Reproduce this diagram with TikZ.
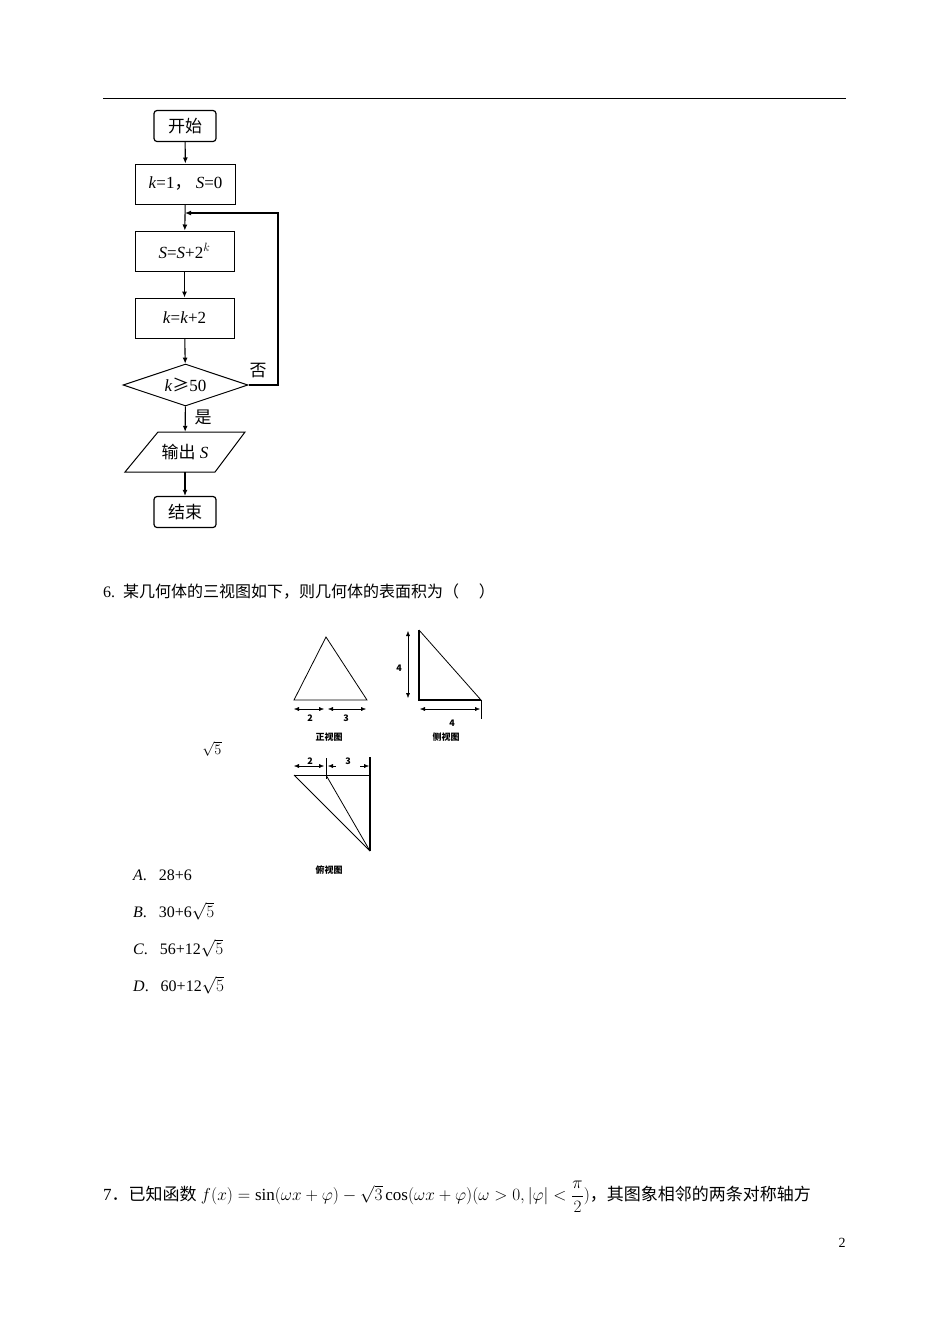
\documentclass[tikz,border=0pt]{standalone}
\usepackage{fontspec}
\setmainfont{Liberation Serif}
\newfontfamily\cjk{Noto Sans CJK SC}
\usetikzlibrary{shapes.geometric,arrows.meta}
\begin{document}
\begin{tikzpicture}[x=1pt,y=-1pt,
  box/.style={draw,semithick,line width=1pt,minimum width=100pt,minimum height=40pt,inner sep=0pt,font=\fontsize{17}{17}\selectfont},
  term/.style={draw,line width=1.2pt,rounded corners=3pt,minimum width=62pt,minimum height=31pt,font=\cjk\fontsize{17}{17}\selectfont},
  flow/.style={line width=1.1pt,-{Latex[length=6pt,width=5pt]}},
  dim/.style={thin,{Latex[length=5pt,width=4pt]}-{Latex[length=5pt,width=4pt]}},
  lbl/.style={font=\cjk\bfseries\fontsize{9}{9}\selectfont},
  txt/.style={anchor=west,font=\fontsize{16}{16}\selectfont,inner sep=0pt}]
\useasboundingbox (0,0) rectangle (950,1342);
\fill[white] (0,0) rectangle (950,1342);
\draw[thin] (103,98) -- (846,98);
% flowchart
\node[term] (s) at (185,126) {开始};
\node[box] (b1) at (185.5,184) {\textit{k}=1{\cjk ，}\ \textit{S}=0};
\node[box,minimum width=99pt] (b2) at (184.5,251) {\textit{S}=\textit{S}+2$^{k}$};
\node[box,minimum width=99pt] (b3) at (184.5,318) {\textit{k}=\textit{k}+2};
\node[draw,line width=1pt,diamond,aspect=3,minimum width=125pt,minimum height=42pt,inner sep=0pt,font=\fontsize{17}{17}\selectfont] (d) at (185.5,385) {\textit{k}{\cjk ≥}50};
\node[minimum width=90pt,minimum height=40pt,inner sep=0pt,font=\fontsize{17}{17}\selectfont] (o) at (185,452) {{\cjk 输出} \textit{S}};
\draw[line width=1pt] (158,432) -- (245,432) -- (215,472) -- (125,472) -- cycle;
\node[term] (e) at (185,512) {结束};
\draw[flow] (s) -- (b1);
\draw[flow] (b1) -- (b2);
\draw[flow] (b2) -- (b3);
\draw[flow] (b3) -- (d);
\draw[flow] (d) -- (o);
\draw[flow] (o) -- (e);
\coordinate (j) at (185,213);
\draw[flow,line width=1.6pt] (d.east) -- (278,385) -- (278,213) -- (j);
\node[font=\cjk\fontsize{17}{17}\selectfont] at (258,371) {否};
\node[font=\cjk\fontsize{17}{17}\selectfont] at (203,417) {是};
% question 6
\node[txt] at (103,591) {6.\ \ {\cjk 某几何体的三视图如下，则几何体的表面积为（\quad\ ）}};
% front view
\draw[thick] (294,700) -- (326,637) -- (367,700) -- cycle;
\draw[dim] (294,709) -- (324,709);
\draw[dim] (328,709) -- (366,709);
\node[lbl] at (310,718) {2};
\node[lbl] at (346,718) {3};
\node[lbl] at (329,737) {正视图};
% side view
\draw[very thick] (419,630) -- (419,700) -- (481,700);
\draw[thick] (419,630) -- (481,700);
\draw (481,700) -- (481,719);
\draw[dim] (408,631) -- (408,698);
\node[lbl] at (399,668) {4};
\draw[dim] (420,709) -- (480,709);
\node[lbl] at (452,723) {4};
\node[lbl] at (446,737) {侧视图};
% top view
\draw[thick] (294,775) -- (370,775);
\draw[very thick] (370,757) -- (370,851);
\draw[thick] (294,775) -- (370,851);
\draw[thick] (326,775) -- (370,851);
\draw[thick] (326,758) -- (326,779);
\draw[dim] (294,766) -- (324,766);
\draw[thin,{Latex[length=5pt,width=4pt]}-] (328,766) -- (336,766);
\draw[thin,-{Latex[length=5pt,width=4pt]}] (360,766) -- (369,766);
\node[lbl] at (310,761) {2};
\node[lbl] at (348,761) {3};
\node[lbl] at (329,870) {俯视图};
\node[font=\fontsize{15}{15}\selectfont] at (212,749) {$\sqrt{5}$};
% options
\node[txt] at (133,875) {\textit{A}.\ \ \ 28+6};
\node[txt] at (133,911) {\textit{B}.\ \ \ 30+6$\sqrt{5}$};
\node[txt] at (133,948) {\textit{C}.\ \ \ 56+12$\sqrt{5}$};
\node[txt] at (133,985) {\textit{D}.\ \ \ 60+12$\sqrt{5}$};
% question 7
\node[txt,font=\fontsize{17}{17}\selectfont] at (103,1197) {7{\cjk ．已知函数} $f(x)=\sin(\omega x+\varphi)-\sqrt{3}\cos(\omega x+\varphi)(\omega>0,|\varphi|<\displaystyle\frac{\pi}{2})${\cjk ，其图象相邻的两条对称轴方}};
\node[font=\fontsize{14}{14}\selectfont] at (842,1243) {2};
\end{tikzpicture}
\end{document}
